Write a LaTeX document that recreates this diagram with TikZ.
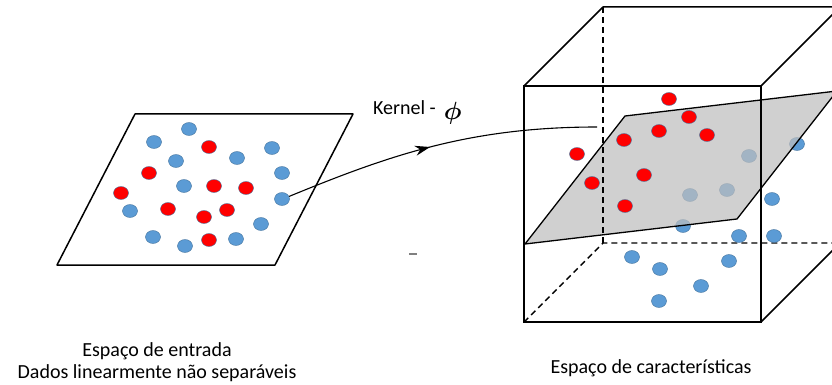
\documentclass[tikz,border=0pt]{standalone}
\usepackage{amsmath}
\usepackage{fontspec}
\setmainfont{Carlito}
\usetikzlibrary{arrows.meta, shapes.geometric, decorations.markings}
\definecolor{dotblue}{RGB}{91, 155, 213}
\definecolor{dotedge}{RGB}{65, 113, 156}
\definecolor{dotred}{RGB}{255, 0, 0}
\definecolor{planegray}{RGB}{190, 190, 190}

\begin{document}
\begin{tikzpicture}[x=1pt, y=-1pt, font=\fontsize{20}{22}\selectfont,
  spot/.style={ellipse, minimum width=15pt, minimum height=13pt, inner sep=0pt, draw=dotedge, line width=0.4pt},
  bluespot/.style={spot, fill=dotblue},
  redspot/.style={spot, fill=dotred},
  cubeline/.style={line width=1.5pt, line join=round},
  frontline/.style={line width=2.3pt, line join=miter},
  hiddenline/.style={line width=1.4pt, dash pattern=on 6pt off 4pt},
  maparrow/.style={line width=1.1pt, decoration={markings, mark=at position 0.47 with {\arrow{Stealth[length=15pt, width=10pt]}}}, postaction={decorate}}]
  \useasboundingbox (0,0) rectangle (832,385);
  \clip (0,0) rectangle (832,385);

  % input space
  \draw[cubeline] (135,114) -- (353,114) -- (275,265) -- (57,265) -- cycle;
  \foreach \x/\y [count=\i] in {189/129, 154/142, 176/161, 237/158, 272/148, 282/173, 184/186,
      130/211, 261/224, 153/237, 185/246, 236/239}
    \node[bluespot] (in-b\i) at (\x,\y) {};
  \node[bluespot] (src) at (282,199) {};
  \foreach \x/\y [count=\i] in {209/147, 149/173, 214/186, 246/188, 121/193, 168/209, 227/210,
      204/217, 209/240}
    \node[redspot] (in-r\i) at (\x,\y) {};

  % feature space (cube)
  \coordinate (fa) at (524,86);  \coordinate (fb) at (761,86);
  \coordinate (fc) at (761,322); \coordinate (fd) at (524,322);
  \coordinate (ba) at (603,7);   \coordinate (bb) at (840,7);
  \coordinate (bc) at (840,243); \coordinate (bd) at (603,243);
  \draw[hiddenline] (fd) -- (bd) -- (bc);
  \draw[cubeline] (fa) -- (ba) -- (bb) -- (bc) -- (fc);
  \draw[cubeline] (fb) -- (bb);

  \foreach \x/\y [count=\i] in {797/144, 749/156, 690/195, 727/190, 683/226, 772/199, 739/236,
      774/236, 632/257, 660/269, 729/261, 701/286, 659/301}
    \node[bluespot] (out-b\i) at (\x,\y) {};

  \fill[planegray, fill opacity=0.72] (525,244) -- (625,116) -- (837,91) -- (737,219) -- cycle;
  \draw[line width=1.3pt, line join=round] (525,244) -- (625,116) -- (837,91) -- (737,219) -- cycle;
  \draw[hiddenline] (ba) -- (bd);
  \draw[frontline] (fa) -- (fb) -- (fc) -- (fd) -- cycle;

  \foreach \x/\y [count=\i] in {669/99, 689/117, 659/131, 707/135, 624/140, 577/154, 644/175,
      592/183, 625/206}
    \node[redspot] (out-r\i) at (\x,\y) {};

  % kernel map
  \coordinate (tgt) at (597,127);
  \draw[maparrow] (src.20) .. controls (390,155) and (470,127) .. (tgt);
  \node[anchor=base west, inner sep=0pt] (kernel) at (373,115)
    {Kernel -\hspace{8pt}\raisebox{-5pt}{\fontsize{36}{38}\selectfont$\boldsymbol{\phi}$}};
  \draw[gray, line width=1.3pt] (409,254) -- (417,254);

  % captions
  \node[align=center, inner sep=0pt] (incap) at (157,362)
    {Espaço de entrada\\Dados linearmente não separáveis};
  \node[anchor=base, inner sep=0pt] (outcap) at (651,373) {Espaço de características};
\end{tikzpicture}
\end{document}
